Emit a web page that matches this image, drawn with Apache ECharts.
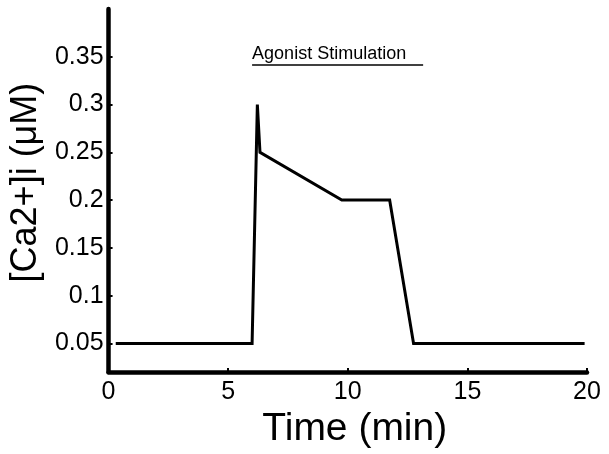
<!DOCTYPE html>
<html>
<head>
<meta charset="utf-8">
<script src="https://cdn.jsdelivr.net/npm/echarts@6/dist/echarts.min.js"></script>
<style>
  html, body { margin: 0; padding: 0; background: #fff; }
  #chart { width: 609px; height: 454px; }
</style>
</head>
<body>
<div id="chart"></div>
<script>
// calcium trace
var timeMin = [0.3, 6, 6.22, 6.33, 9.75, 11.75, 12.75, 19.9];
var caConc = [0.05, 0.05, 0.3, 0.25, 0.2, 0.2, 0.05, 0.05];
// agonist bar
var stimStart = 6;
var stimEnd = 13.15;
var stimLevel = 0.342;
var stimText = 'Agonist Stimulation';
// ticks
var yTicks = [0.05, 0.1, 0.15, 0.2, 0.25, 0.3, 0.35];

var font = 'Liberation Sans, Arial, Helvetica, sans-serif';
var chart = echarts.init(document.getElementById('chart'));

var trace = timeMin.map(function (t, i) { return [t, caConc[i]]; });

chart.setOption({
    animation: false,
    backgroundColor: '#fff',
    grid: { left: 108, right: 22, top: 9, bottom: 79 },
    xAxis: {
        type: 'value',
        min: 0, max: 20, interval: 5,
        name: 'Time (min)',
        nameLocation: 'middle',
        nameGap: 30,
        nameTextStyle: { fontSize: 39, color: '#000', fontFamily: font, verticalAlign: 'top', padding: [0, 0, 0, 14] },
        axisLine: { onZero: false, lineStyle: { color: '#000', width: 4.5 } },
        axisTick: { inside: true, length: 4, lineStyle: { color: '#000', width: 2 } },
        axisLabel: { fontSize: 25, color: '#000', fontFamily: font, margin: 8 },
        splitLine: { show: false }
    },
    yAxis: {
        type: 'value',
        min: 0.02, max: 0.4,
        name: '[Ca2+]i (\u03bcM)',
        nameLocation: 'middle',
        nameGap: 60,
        nameTextStyle: { fontSize: 36, color: '#000', fontFamily: font, padding: [0, 0, 0, 16] },
        axisLine: { show: true, onZero: false, lineStyle: { color: '#000', width: 4.5 } },
        axisTick: { show: true, inside: true, length: 4, customValues: yTicks, lineStyle: { color: '#000', width: 2 } },
        axisLabel: {
            fontSize: 25, color: '#000', fontFamily: font, margin: 5,
            customValues: yTicks,
            formatter: function (v) { return String(+v.toFixed(2)); }
        },
        splitLine: { show: false }
    },
    series: [
        {
            type: 'line',
            data: trace,
            symbol: 'none',
            lineStyle: { color: '#000', width: 3, join: 'miter' },
            markLine: {
                silent: true,
                symbol: 'none',
                lineStyle: { color: '#000', width: 1.5, type: 'solid' },
                label: {
                    show: true,
                    position: 'insideStartTop',
                    formatter: stimText,
                    color: '#000',
                    fontSize: 18,
                    fontFamily: font,
                    distance: [0, 1]
                },
                data: [[{ coord: [stimStart, stimLevel] }, { coord: [stimEnd, stimLevel] }]]
            }
        }
    ]
});
</script>
</body>
</html>
